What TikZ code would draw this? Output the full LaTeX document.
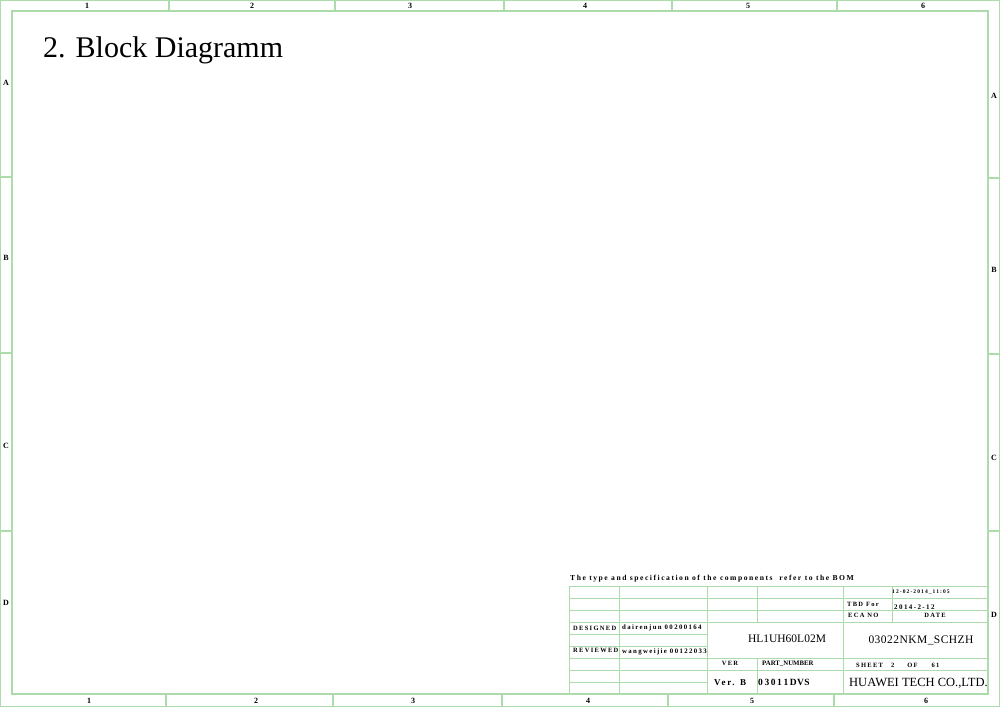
\documentclass[tikz,border=0pt]{standalone}
\usepackage{fontspec}
\setmainfont{Liberation Serif}
\newfontfamily\spacedfont[LetterSpace=20]{Liberation Serif}
\newfontfamily\midfont[LetterSpace=4]{Liberation Serif}
\definecolor{framegreen}{RGB}{172,220,172}

\begin{document}
\begin{tikzpicture}[x=1pt, y=-1pt,
  frame/.style={draw=framegreen, line width=1.2pt},
  grid/.style={draw=framegreen, line width=1pt},
  zone/.style={font=\bfseries\fontsize{8}{8}\selectfont, inner sep=0pt},
  tiny/.style={font=\spacedfont\bfseries\fontsize{6.5}{6.5}\selectfont, inner sep=0pt},
  big/.style={font=\midfont\fontsize{11.5}{12}\selectfont, inner sep=0pt}]

  \useasboundingbox (0,0) rectangle (1000,707);

  % Frame
  \draw[frame] (0.6,0.6) rectangle (999.4,706.4);
  \draw[frame] (12,11) rectangle (988,694);

  % Zone marks
  \foreach \x in {169,335,504,672,837}
    \draw[frame] (\x,0.6) -- (\x,11);
  \foreach \x in {166,333,502,668,834}
    \draw[frame] (\x,694) -- (\x,706.4);
  \foreach \y/\z in {177/178,353/354,531/531} {
    \draw[frame] (0.6,\y) -- (12,\y);
    \draw[frame] (988,\z) -- (999.4,\z);
  }
  \foreach \n/\xt/\xb in {1/87/89,2/252/256,3/410/413,4/585/588,5/748/752,6/923/926} {
    \node[zone] (top\n) at (\xt,5.5) {\n};
    \node[zone] (bot\n) at (\xb,700.5) {\n};
  }
  \foreach \l/\yl/\yr in {A/83/96,B/258/270,C/446/458,D/603/615} {
    \node[zone] (left\l) at (6,\yl) {\l};
    \node[zone] (right\l) at (994,\yr) {\l};
  }

  % Title
  \node[font=\fontsize{30}{30}\selectfont, inner sep=0pt, anchor=base west]
    (title) at (43,57) {2. Block Diagramm};

  % Title block
  \node[tiny, font=\spacedfont\bfseries\fontsize{7.6}{8}\selectfont, anchor=base west]
    (bom) at (570,580.5) {The type and specification of the components \ refer to the BOM};

  \foreach \y in {586,598,610.5,622.5,634.5,646,658,670,682}
    \draw[grid] (569,\y) -- (707,\y);
  \foreach \y in {586,598,610.5,622.5,658,670}
    \draw[grid] (707,\y) -- (987,\y);
  \foreach \x in {569,619,707,843,987}
    \draw[grid] (\x,586) -- (\x,694);
  \draw[grid] (757,586) -- (757,622.5);
  \draw[grid] (757,658) -- (757,694);
  \draw[grid] (892,586) -- (892,622.5);

  \node[tiny, anchor=base west] (designed) at (573,630.5) {DESIGNED};
  \node[tiny, font=\spacedfont\bfseries\fontsize{6.8}{7}\selectfont, anchor=base west]
    (designer) at (622,629.5) {dairenjun 00200164};
  \node[tiny, anchor=base west] (reviewed) at (573,652.5) {REVIEWED};
  \node[tiny, font=\spacedfont\bfseries\fontsize{6.8}{7}\selectfont, anchor=base west]
    (reviewer) at (622,653.5) {wangweijie 00122033};

  \node[tiny, font=\spacedfont\bfseries\fontsize{5.5}{6}\selectfont, anchor=base west]
    (stamp) at (892,593) {12-02-2014\_11:05};
  \node[tiny, anchor=base west] (tbd) at (847,606) {TBD For};
  \node[tiny, font=\spacedfont\bfseries\fontsize{7}{7}\selectfont, anchor=base west]
    (date) at (894,609) {2014-2-12};
  \node[tiny, anchor=base west] (eca) at (848,617) {ECA NO};
  \node[tiny, anchor=base] (datelbl) at (935,617) {DATE};

  \node[big, font=\fontsize{11.5}{12}\selectfont] (board) at (787,639) {HL1UH60L02M};
  \node[big] (drawing) at (921,640) {03022NKM\_SCHZH};

  \node[tiny, anchor=base] (ver) at (730,665) {VER};
  \node[tiny, font=\bfseries\fontsize{6.8}{7}\selectfont, anchor=base west]
    (partno) at (762,665) {PART\_NUMBER};
  \node[tiny, anchor=base west] (sheet) at (856,667)
    {SHEET\hspace{8pt}2\hspace{13pt}OF\hspace{14pt}61};

  \node[tiny, font=\spacedfont\bfseries\fontsize{9}{9}\selectfont, anchor=base west]
    (verb) at (714,685) {Ver. B};
  \node[tiny, font=\midfont\bfseries\fontsize{9.5}{10}\selectfont, anchor=base west]
    (part) at (758,685) {0\,3\,0\,1\,1\,DVS};
  \node[font=\fontsize{12.5}{13}\selectfont, inner sep=0pt, anchor=base west]
    (company) at (849,686) {HUAWEI TECH CO.,LTD.};

\end{tikzpicture}
\end{document}
